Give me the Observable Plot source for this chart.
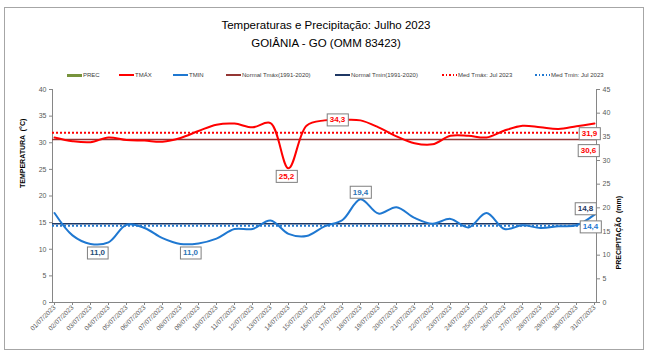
<!DOCTYPE html>
<html><head><meta charset="utf-8">
<script src="https://cdn.jsdelivr.net/npm/d3@7"></script>
<script src="https://cdn.jsdelivr.net/npm/@observablehq/plot@0.6"></script>
<style>
body{margin:0;background:#fff;font-family:"Liberation Sans",Arial,sans-serif;}
#wrap{position:relative;width:650px;height:353px;overflow:hidden;background:#fff}
#border{position:absolute;left:4px;top:7px;width:640px;height:343px;border:1px solid #a6a6a6;box-sizing:border-box}
.title{position:absolute;left:0;width:652px;text-align:center;font-size:11.5px;color:#000;line-height:14px}
.li{position:absolute;top:71px;height:8px;display:flex;align-items:center;white-space:nowrap;font-size:6px;color:#404040}
.sw{width:15px;margin-right:1px}
#chart{position:absolute;left:0;top:80px}
</style></head>
<body>
<div id="wrap">
  <div id="border"></div>
  <div class="title" style="top:18px">Temperaturas e Precipitação: Julho 2023</div>
  <div class="title" style="top:36px">GOIÂNIA - GO (OMM 83423)</div>
  <div id="legend"></div>
  <div id="chart"></div>
</div>
<script>
const dates = ["01/07/2023","02/07/2023","03/07/2023","04/07/2023","05/07/2023","06/07/2023","07/07/2023","08/07/2023","09/07/2023","10/07/2023","11/07/2023","12/07/2023","13/07/2023","14/07/2023","15/07/2023","16/07/2023","17/07/2023","18/07/2023","19/07/2023","20/07/2023","21/07/2023","22/07/2023","23/07/2023","24/07/2023","25/07/2023","26/07/2023","27/07/2023","28/07/2023","29/07/2023","30/07/2023","31/07/2023"];
const tmax = [31.0,30.3,30.1,31.0,30.5,30.4,30.2,30.9,32.2,33.4,33.6,32.9,33.7,25.2,33.2,34.2,34.3,34.2,32.9,31.2,29.9,29.7,31.3,31.3,31.0,32.3,33.2,32.9,32.6,33.1,33.6];
const tmin = [16.8,12.6,11.0,11.3,14.6,14.0,12.1,11.0,11.1,12.0,13.8,13.8,15.4,12.9,12.5,14.3,15.5,19.4,16.7,17.9,15.9,14.8,15.7,14.1,16.8,13.8,14.5,14.0,14.3,14.5,16.5];
const prec = [0,0,0,0,0,0,0,0,0,0,0,0,0,0,0,0,0,0,0,0,0,0,0,0,0,0,0,0,0,0,0];
const normalTmax = 30.6, normalTmin = 14.8, medTmax = 31.9, medTmin = 14.4;
const tempTicks = [0,5,10,15,20,25,30,35,40];
const precTicks = [0,5,10,15,20,25,30,35,40,45];
const legendItems = [
  {label:"PREC", color:"#77933c", type:"bar", left:67},
  {label:"TMÁX", color:"#ff0000", type:"line", left:119},
  {label:"TMIN", color:"#1f78d1", type:"line", left:173},
  {label:"Normal Tmáx(1991-2020)", color:"#943634", type:"line", left:226},
  {label:"Normal Tmin(1991-2020)", color:"#1f3864", type:"line", left:335},
  {label:"Med Tmáx: Jul 2023", color:"#ff0000", type:"dot", left:442},
  {label:"Med Tmin: Jul 2023", color:"#1f78d1", type:"dot", left:535}
];

const C = {tmax:"#ff0000", tmin:"#1f78d1", nmax:"#943634", nmin:"#1f3864"};
const fmt = v => d3.format(".1f")(v).replace(".", ",");

// legend
const leg = document.getElementById("legend");
for (const it of legendItems) {
  const d = document.createElement("div");
  d.className = "li"; d.style.left = it.left + "px";
  const s = document.createElement("div"); s.className = "sw";
  if (it.type === "bar") { s.style.height = "3px"; s.style.background = it.color; }
  else if (it.type === "line") { s.style.height = "1.6px"; s.style.background = it.color; }
  else { s.style.height = "1.6px"; s.style.background = `repeating-linear-gradient(90deg, ${it.color} 0 1.6px, transparent 1.6px 3.6px)`; }
  d.appendChild(s);
  d.appendChild(document.createTextNode(it.label));
  leg.appendChild(d);
}

const data = dates.map((d, i) => ({date: d, tmax: tmax[i], tmin: tmin[i], prec: prec[i]}));
const k = 40 / 45;
const last = dates[dates.length - 1];
const imax = tmax.indexOf(d3.max(tmax)), iminMax = tmax.indexOf(d3.min(tmax));
const imaxMin = tmin.indexOf(d3.max(tmin));
const labels = [
  {x: dates[iminMax], y: tmax[iminMax], c: C.tmax, dx: -2, dy: 8},
  {x: dates[imax], y: tmax[imax], c: C.tmax, dx: -5, dy: 0},
  {x: last, y: medTmax, c: C.tmax, dx: -5, dy: 1},
  {x: last, y: normalTmax, c: C.tmax, dx: -6, dy: 11},
  {x: dates[2], y: tmin[2], c: "#1f4e79", dx: 7, dy: 9},
  {x: dates[7], y: tmin[7], c: "#2e75b6", dx: 10, dy: 9},
  {x: dates[imaxMin], y: tmin[imaxMin], c: "#2e75b6", dx: 0, dy: -7},
  {x: last, y: normalTmin, c: C.nmin, dx: -9, dy: -15},
  {x: last, y: medTmin, c: C.tmin, dx: -4, dy: 1}
].map(d => ({...d, t: fmt(d.y)}));

const plot = Plot.plot({
  width: 650, height: 273,
  marginLeft: 52, marginRight: 54, marginTop: 9, marginBottom: 51,
  style: {fontFamily: "Liberation Sans, Arial, sans-serif", fontSize: "7px", color: "#595959", background: "transparent", overflow: "visible"},
  x: {type: "point", domain: dates, padding: 0},
  y: {domain: [0, 40]},
  marks: [
    Plot.ruleX(data, {x: "date", y1: 0, y2: d => d.prec * k, stroke: "#77933c", strokeWidth: 8}),
    Plot.frame({anchor: "left", stroke: "#868686"}),
    Plot.frame({anchor: "right", stroke: "#868686"}),
    Plot.frame({anchor: "bottom", stroke: "#868686"}),
    Plot.axisY({ticks: tempTicks, tickSize: 3, tickPadding: 3, label: null, stroke: "#868686", fill: "#595959"}),
    Plot.axisY({anchor: "right", ticks: precTicks.map(v => v * k), tickFormat: v => Math.round(v / k), tickSize: 3, tickPadding: 3, label: null, stroke: "#868686", fill: "#595959"}),
    Plot.axisX({tickRotate: -45, tickSize: 3, tickPadding: 1, label: null, stroke: "#868686", fill: "#595959", fontSize: 6.5}),
    Plot.text(["TEMPERATURA  (°C)"], {frameAnchor: "left", rotate: -90, dx: -30, dy: -8, fontWeight: "bold", fill: "#000", fontSize: 7}),
    Plot.text(["PRECIPITAÇÃO  (mm)"], {frameAnchor: "right", rotate: -90, dx: 22, dy: 0, fontWeight: "bold", fill: "#000", fontSize: 7}),
    Plot.ruleY([normalTmax], {stroke: C.nmax, strokeWidth: 1.5}),
    Plot.ruleY([normalTmin], {stroke: C.nmin, strokeWidth: 1.5}),
    Plot.ruleY([medTmax], {stroke: C.tmax, strokeWidth: 2, strokeDasharray: "2,2"}),
    Plot.ruleY([medTmin], {stroke: C.tmin, strokeWidth: 2, strokeDasharray: "2,2"}),
    Plot.line(data, {x: "date", y: "tmax", stroke: C.tmax, strokeWidth: 2, curve: "catmull-rom"}),
    Plot.line(data, {x: "date", y: "tmin", stroke: C.tmin, strokeWidth: 2, curve: "catmull-rom"}),
    ...labels.map(l => Plot.text([l], {x: "x", y: "y", text: "t", fill: l.c, dx: l.dx, dy: l.dy, fontWeight: "bold", fontSize: 8, className: "lbl"}))
  ]
});
document.getElementById("chart").appendChild(plot);

// boxes behind labels
plot.querySelectorAll(".lbl text").forEach(t => {
  const b = t.getBBox();
  const r = document.createElementNS("http://www.w3.org/2000/svg", "rect");
  const px = 2.5, py = 1.5;
  r.setAttribute("x", b.x - px); r.setAttribute("y", b.y - py);
  r.setAttribute("width", b.width + 2 * px); r.setAttribute("height", b.height + 2 * py);
  r.setAttribute("fill", "#fff"); r.setAttribute("stroke", "#7f7f7f"); r.setAttribute("stroke-width", "1");
  const tr = t.getAttribute("transform");
  if (tr) r.setAttribute("transform", tr);
  t.parentNode.insertBefore(r, t);
});
</script>
</body></html>
